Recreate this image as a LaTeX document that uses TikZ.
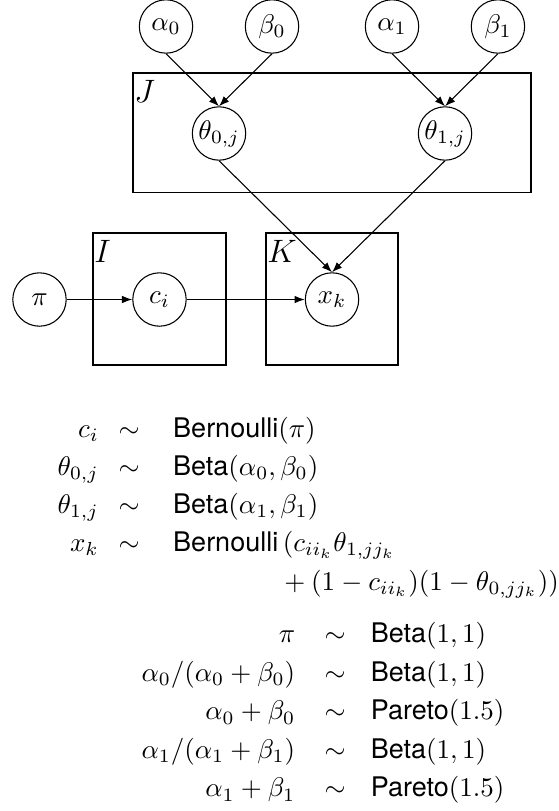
\documentclass[tikz,border=0pt]{standalone}
\usepackage{fontspec}
\setsansfont{TeX Gyre Heros}
\usetikzlibrary{arrows.meta,backgrounds}
\tikzset{dep edge/.style={-{Latex[length=3.8pt,width=2.8pt]}}}
\tikzset{var node/.style={draw=black, circle, inner sep=0pt, minimum size=0.695cm, fill=white}}
\tikzset{plate box/.style={draw=black, inner sep=0pt}}
\tikzset{plate label/.style={anchor=north west, inner xsep=0.5pt, inner ysep=2.8pt, font=\large}}
\tikzset{prior block/.style={anchor=base west, inner sep=0pt}}

\begin{document}
\begin{tikzpicture}[x=1cm,y=1cm]
		\useasboundingbox (0,0) rectangle (7.264,10.557);

		\node[var node] (a0) at (2.161,10.212) {$\alpha_0$};
		\node[var node] (b0) at (3.541,10.212) {$\beta_0$};
		\node[var node] (a1) at (5.103,10.212) {$\alpha_1$};
		\node[var node] (b1) at (6.482,10.212) {$\beta_1$};
		\node[var node] (t0) at (2.851,8.819) {$\theta_{0,j}$};
		\node[var node] (t1) at (5.793,8.819) {$\theta_{1,j}$};
		\node[var node] (pi) at (0.514,6.658) {$\pi$};
		\node[var node] (ci) at (2.076,6.658) {$c_i$};
		\node[var node] (xk) at (4.322,6.658) {$x_k$};

		\begin{scope}[on background layer]
			\node[plate box, minimum width=5.181cm, minimum height=1.562cm] (plateJ) at (4.3215,8.826) {};
			\node[plate box, minimum width=1.731cm, minimum height=1.718cm] (plateI) at (2.0765,6.665) {};
			\node[plate box, minimum width=1.718cm, minimum height=1.718cm] (plateK) at (4.322,6.665) {};
		\end{scope}
		\node[plate label] (labJ) at (plateJ.north west) {$J$};
		\node[plate label] (labI) at (plateI.north west) {$I$};
		\node[plate label] (labK) at (plateK.north west) {$K$};

		\draw[dep edge] (a0.south) -- (t0.north);
		\draw[dep edge] (b0.south) -- (t0.north);
		\draw[dep edge] (a1.south) -- (t1.north);
		\draw[dep edge] (b1.south) -- (t1.north);
		\draw[dep edge] (t0.south) -- (xk.north);
		\draw[dep edge] (t1.south) -- (xk.north);
		\draw[dep edge] (pi) -- (ci);
		\draw[dep edge] (ci) -- (xk);

		\node[prior block] (model) at (0.742,4.868) {$\begin{array}[t]{@{}r@{\hspace{7.4pt}}c@{\hspace{12.4pt}}l@{}}
			c_i & \sim & \textsf{Bernoulli}(\pi)\\[2.17pt]
			\theta_{0,j} & \sim & \textsf{Beta}(\alpha_0,\beta_0)\\[2.17pt]
			\theta_{1,j} & \sim & \textsf{Beta}(\alpha_1,\beta_1)\\[2.17pt]
			x_k & \sim & \textsf{Bernoulli}\,(c_{ii_k}\theta_{1,jj_k}\\[2.17pt]
			& & \hphantom{\textsf{Bernoulli}}{}+(1-c_{ii_k})(1-\theta_{0,jj_k}))
		\end{array}$};
		\node[prior block] (hyper) at (1.835,2.187) {$\begin{array}[t]{@{}r@{\hspace{10.9pt}}c@{\hspace{9.4pt}}l@{}}
			\pi & \sim & \textsf{Beta}(1,1)\\[2.26pt]
			\alpha_0/(\alpha_0+\beta_0) & \sim & \textsf{Beta}(1,1)\\[2.26pt]
			\alpha_0+\beta_0 & \sim & \textsf{Pareto}(1.5)\\[2.26pt]
			\alpha_1/(\alpha_1+\beta_1) & \sim & \textsf{Beta}(1,1)\\[2.26pt]
			\alpha_1+\beta_1 & \sim & \textsf{Pareto}(1.5)
		\end{array}$};
	\end{tikzpicture}
\end{document}
